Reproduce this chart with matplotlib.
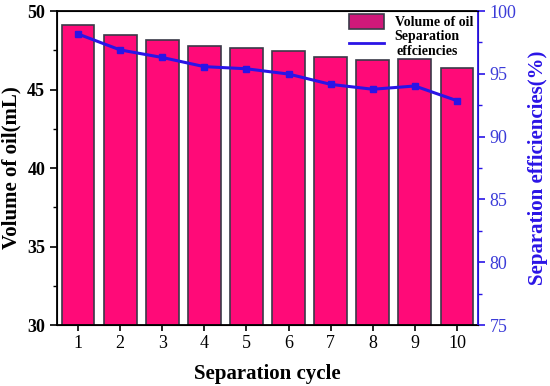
import numpy as np
import matplotlib.pyplot as plt
from matplotlib.ticker import MultipleLocator
from matplotlib.lines import Line2D

# data
cycles = [1, 2, 3, 4, 5, 6, 7, 8, 9, 10]
volume = [49.1, 48.5, 48.17, 47.77, 47.66, 47.47, 47.05, 46.86, 46.96, 46.35]
efficiency = [98.17, 96.9, 96.3, 95.57, 95.4, 94.98, 94.16, 93.77, 94.03, 92.86]

plt.rcParams['font.family'] = ['Liberation Serif', 'DejaVu Serif']

fig = plt.figure(figsize=(5.5, 3.86), dpi=100)
ax = fig.add_axes([0.1036, 0.158, 0.7655, 0.8135])

bars = ax.bar(cycles, volume, width=0.78, color='#FF0A78', edgecolor='#3a3a48',
              linewidth=1.2, label='Volume of oil')
ax.set_xlim(0.5, 10.5)
ax.set_ylim(30, 50)
ax.set_xticks(cycles)
ax.yaxis.set_major_locator(MultipleLocator(5))
ax.yaxis.set_minor_locator(MultipleLocator(2.5))
ax.tick_params(axis='y', which='major', direction='out', length=5, width=1.2, labelsize=13)
ax.tick_params(axis='y', which='minor', direction='out', length=3, width=1.0)
ax.tick_params(axis='x', direction='out', length=4, width=1.2, labelsize=13)
for lbl in ax.get_yticklabels():
    lbl.set_fontweight('bold')
ax.set_xlabel('Separation cycle', fontsize=15, fontweight='bold', labelpad=8)
ax.set_ylabel('Volume of oil(mL)', fontsize=15, fontweight='bold', labelpad=4)
for s in ['left', 'bottom', 'top']:
    ax.spines[s].set_linewidth(1.3)

ax2 = ax.twinx()
line, = ax2.plot(cycles, efficiency, color='#2A14E6', linewidth=2.2, marker='s',
                 markersize=4)
ax2.set_ylim(75, 100)
ax2.yaxis.set_major_locator(MultipleLocator(5))
ax2.yaxis.set_minor_locator(MultipleLocator(2.5))
ax2.tick_params(axis='y', which='major', direction='out', length=5, width=1.2,
                colors='#2A14E6', labelsize=13, labelcolor='#3B3BD8')
ax2.tick_params(axis='y', which='minor', direction='out', length=3, width=1.0,
                colors='#2A14E6')
ax2.spines['right'].set_color('#2A14E6')
ax2.spines['right'].set_linewidth(1.3)
ax2.set_ylabel('Separation efficiencies(%)', fontsize=15, fontweight='bold',
               color='#2A14E6', labelpad=8)

line_proxy = Line2D([], [], color='#2A14E6', linewidth=2.0)
leg = ax2.legend([bars, line_proxy], ['Volume of oil', 'Separation\neffciencies'],
                 loc='upper right', bbox_to_anchor=(0.995, 1.0), frameon=False,
                 prop={'weight': 'bold', 'size': 10}, handlelength=2.5,
                 handleheight=1.3, borderaxespad=0.0, borderpad=0.2,
                 labelspacing=0.1, handletextpad=0.8)
leg.legend_handles[0].set_facecolor('#D0187A')
leg.legend_handles[0].set_edgecolor('#3a3a48')
for t in leg.get_texts():
    t.set_multialignment('center')

fig.savefig('out.png', dpi=100)
